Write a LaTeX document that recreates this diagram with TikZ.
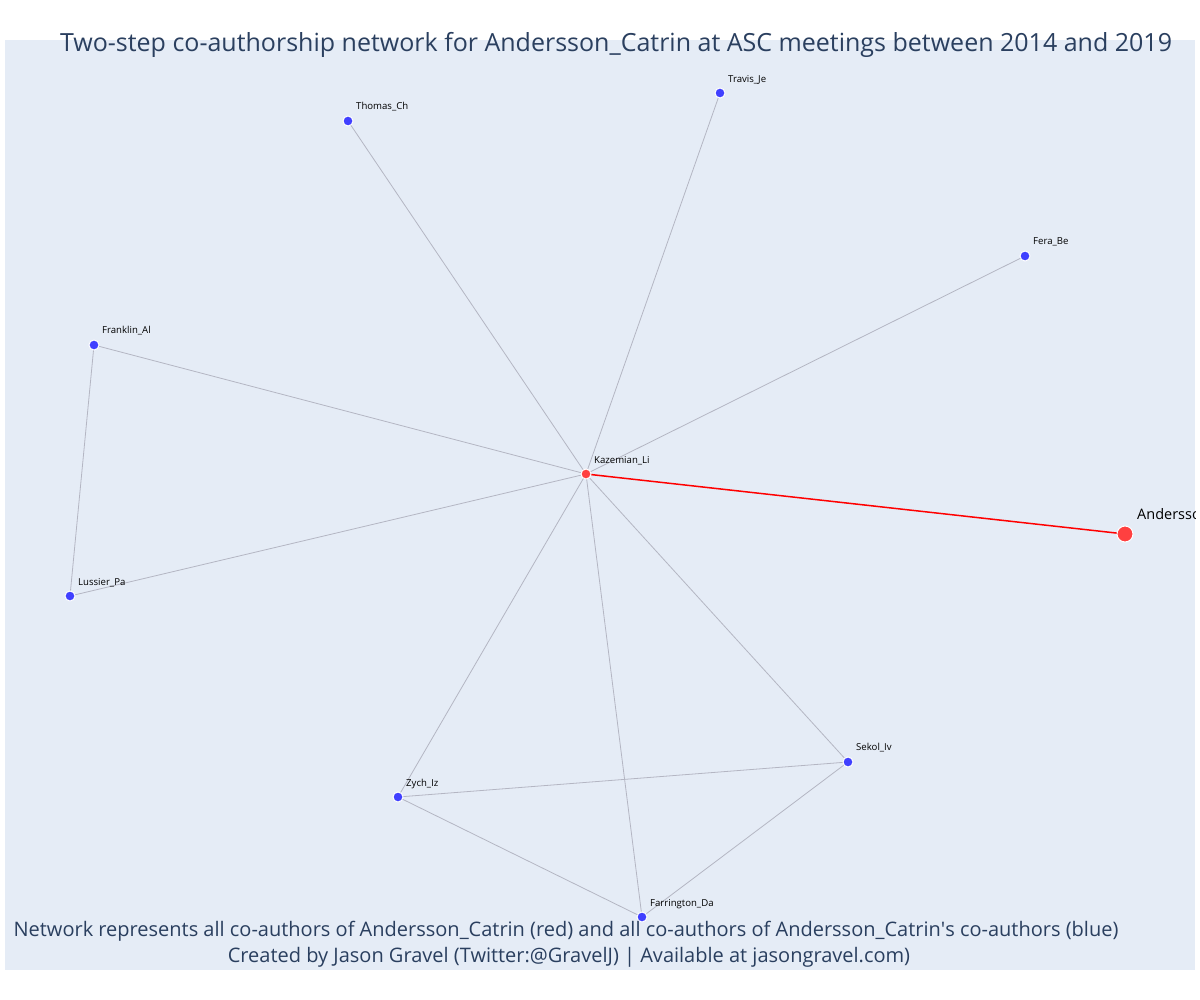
\documentclass[tikz,border=0pt]{standalone}
\usepackage{fontspec}
\setmainfont{Open Sans}
\newfontfamily\nomapfont{Open Sans}
\definecolor{plotbg}{HTML}{E5ECF6}
\definecolor{titlecol}{HTML}{2A3F5F}
\definecolor{bluenode}{RGB}{64,64,255}
\definecolor{rednode}{RGB}{255,64,64}
\definecolor{edgegray}{RGB}{180,182,195}
\begin{document}
\begin{tikzpicture}[x=1pt,y=-1pt,
  bnode/.style={circle,fill=bluenode,draw=white,line width=1pt,inner sep=0pt,minimum size=10pt},
  rnode/.style={circle,fill=rednode,draw=white,line width=1pt,inner sep=0pt,minimum size=10pt},
  bignode/.style={circle,fill=rednode,draw=white,line width=1pt,inner sep=0pt,minimum size=16pt},
  lbl/.style={anchor=west,inner sep=0pt,font=\fontsize{9.6}{11}\selectfont,text=black},
  gedge/.style={draw=edgegray,line width=0.8pt},
  redge/.style={draw=red,line width=1.5pt},
  ttl/.style={text=titlecol,inner sep=0pt}]
\useasboundingbox (0,0) rectangle (1200,1000);
\fill[plotbg] (5,40) rectangle (1195,970) coordinate (bgse);
\coordinate (bgnw) at (5,40);
% nodes coordinates
\coordinate (pK) at (586,474);
\coordinate (pA) at (1125,534);
\coordinate (pTh) at (348,121);
\coordinate (pTr) at (720,93);
\coordinate (pFe) at (1025,256);
\coordinate (pFr) at (94,345);
\coordinate (pLu) at (70,596);
\coordinate (pZy) at (398,797);
\coordinate (pSe) at (848,762);
\coordinate (pFa) at (642,917);
% edges
\draw[gedge] (pK) -- (pTh);
\draw[gedge] (pK) -- (pTr);
\draw[gedge] (pK) -- (pFe);
\draw[gedge] (pK) -- (pFr);
\draw[gedge] (pK) -- (pLu);
\draw[gedge] (pK) -- (pZy);
\draw[gedge] (pK) -- (pSe);
\draw[gedge] (pK) -- (pFa);
\draw[gedge] (pFr) -- (pLu);
\draw[gedge] (pZy) -- (pSe);
\draw[gedge] (pZy) -- (pFa);
\draw[gedge] (pSe) -- (pFa);
\draw[redge] (pK) -- (pA);
% markers
\node[bnode] (Th) at (pTh) {};
\node[bnode] (Tr) at (pTr) {};
\node[bnode] (Fe) at (pFe) {};
\node[bnode] (Fr) at (pFr) {};
\node[bnode] (Lu) at (pLu) {};
\node[bnode] (Zy) at (pZy) {};
\node[bnode] (Se) at (pSe) {};
\node[bnode] (Fa) at (pFa) {};
\node[rnode] (K) at (pK) {};
\node[bignode] (A) at (pA) {};
% labels
\node[lbl] (lK) at (594,461) {Kazemian\_Li};
\node[lbl] (lTh) at (356,107) {Thomas\_Ch};
\node[lbl] (lTr) at (728,80) {Travis\_Je};
\node[lbl] (lFe) at (1033,242) {Fera\_Be};
\node[lbl] (lFr) at (102,331) {Franklin\_Al};
\node[lbl] (lLu) at (78,583) {Lussier\_Pa};
\node[lbl] (lZy) at (406,784) {Zych\_Iz};
\node[lbl] (lSe) at (856,748) {Sekol\_Iv};
\node[lbl] (lFa) at (650,904) {Farrington\_Da};
\begin{scope}
\clip (bgnw) rectangle (bgse);
\node[lbl,font=\fontsize{14.5}{16}\selectfont] (lA) at (1137,515) {Andersson\_Catrin};
\end{scope}
% title and footer
\node[ttl,font=\fontsize{25}{30}\selectfont] (title) at (616,45) {Two-step co-authorship network for Andersson\_Catrin at ASC meetings between 2014 and 2019};
\node[ttl,font=\fontsize{20}{24}\selectfont] (foot1) at (566,931) {Network represents all co-authors of Andersson\_Catrin (red) and all co-authors of Andersson\_Catrin{\nomapfont'}s co-authors (blue)};
\node[ttl,font=\fontsize{20}{24}\selectfont] (foot2) at (569,957) {Created by Jason Gravel (Twitter:@GravelJ) | Available at jasongravel.com)};
\end{tikzpicture}
\end{document}
